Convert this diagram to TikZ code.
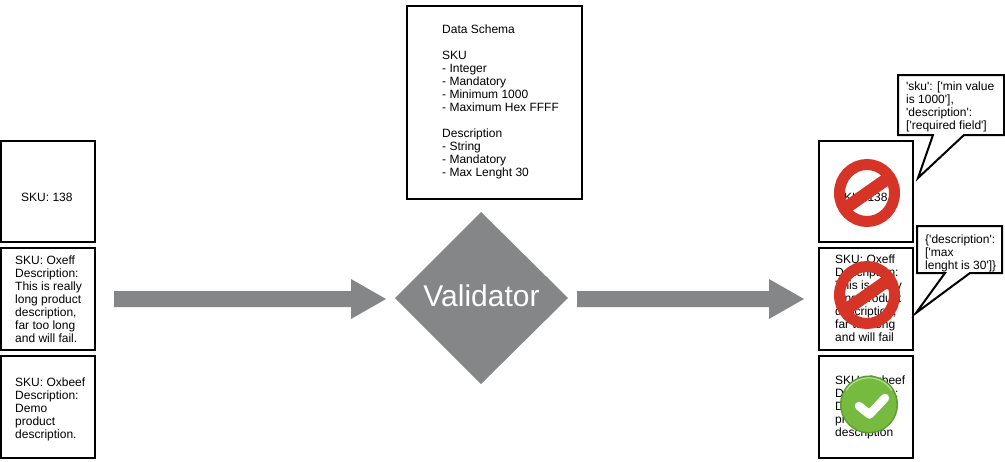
\documentclass[tikz,border=0pt]{standalone}
\usepackage{fontspec}
\setmainfont{Liberation Sans}[Ligatures=TeXOff]
\usetikzlibrary{calc}
\definecolor{arrowgray}{HTML}{858687}
\definecolor{stopred}{HTML}{D53426}
\definecolor{okgreen}{HTML}{76BB40}
\definecolor{okdark}{HTML}{5C9C2E}
\definecolor{oklight}{HTML}{B5DC95}
\tikzset{
  x=1pt,y=-1pt,
  boxed/.style={draw=black,line width=2pt,fill=white},
  txt/.style={inner sep=0pt,anchor=north west,align=left,font=\fontsize{12}{13}\selectfont},
  bigarrow/.style={fill=arrowgray,draw=none},
  callout/.style={draw=black,line width=2pt,fill=white,line join=miter},
  stopring/.style={draw=stopred,line width=11pt},
  stopbar/.style={draw=stopred,line width=12.5pt},
}
\newcommand{\stopsign}[2]{%
  \draw[stopring] (#1,#2) ellipse[x radius=27.5,y radius=28.5];
  \draw[stopbar] ($(#1,#2)+(-25,17.5)$) -- ($(#1,#2)+(25,-17.5)$);
}
\begin{document}
\begin{tikzpicture}
\useasboundingbox (0,0) rectangle (1005,461);
\fill[white] (0,0) rectangle (1005,461);
% left boxes
\draw[boxed] (1,141) rectangle (95,242);
\draw[boxed] (1,248) rectangle (95,350);
\draw[boxed] (1,356) rectangle (95,458);
\node[txt] (ta) at (21,193) {SKU: 138};
\node[txt] (tb) at (15,256) {SKU: Oxeff\\Description:\\This is really\\long product\\description,\\far too long\\and will fail.};
\node[txt] (tc) at (15,378) {SKU: Oxbeef\\Description:\\Demo\\product\\description.};
% schema
\draw[boxed] (407,6) rectangle (582,199);
\node[txt] (schema) at (442,25) {Data Schema\\[13pt]SKU\\- Integer\\- Mandatory\\- Minimum 1000\\- Maximum Hex FFFF\\[13pt]Description\\- String\\- Mandatory\\- Max Lenght 30};
% arrows
\fill[bigarrow] (114,291) -- (351,291) -- (351,279) -- (386,299) -- (351,319) -- (351,307) -- (114,307) -- cycle;
\fill[bigarrow] (577,291) -- (769,291) -- (769,279) -- (804,299) -- (769,319) -- (769,307) -- (577,307) -- cycle;
% validator
\fill[arrowgray] (481,212) -- (568,298) -- (481,384) -- (395,298) -- cycle;
\node[inner sep=0pt,text=white,font=\fontsize{30}{31}\selectfont] (val) at (481.5,295.5) {Validator};
% right boxes
\draw[boxed] (819,141) rectangle (913,242);
\draw[boxed] (819,248) rectangle (913,350);
\draw[boxed] (819,356) rectangle (913,458);
\node[txt] (tr1) at (836,193) {SKU: 138};
\node[txt] (tr2) at (835,255) {SKU: Oxeff\\Description:\\This is really\\long product\\description,\\far too long\\and will fail};
\node[txt] (tr3) at (835,375.5) {SKU: Oxbeef\\Description:\\Demo\\product\\description};
% callouts
\draw[callout] (898,75) -- (1004,75) -- (1004,135) -- (964,135) -- (918,178) -- (933,135) -- (898,135) -- cycle;
\node[txt] (c1) at (906,82) {'sku': ['min value\\is 1000'],\\'description':\\{}['required field']};
\draw[callout] (917,226) -- (1002,226) -- (1002,273) -- (970,273) -- (916,313) -- (945,273) -- (917,273) -- cycle;
\node[txt] (c2) at (925,235) {\{'description':\\{}['max\\lenght is 30']\}};
% icons
\stopsign{867}{193}
\stopsign{867}{295}
\fill[okdark] (869,404.5) circle[radius=29];
\fill[okgreen] (869,404.5) circle[radius=27.5];
\draw[oklight,line width=1.2pt] (846,390.5) arc[start angle=212,end angle=328,radius=27];
\draw[white,line width=8.5pt,line cap=round,line join=round] (859,406) -- (869.5,414.5) -- (885,398);
\end{tikzpicture}
\end{document}
